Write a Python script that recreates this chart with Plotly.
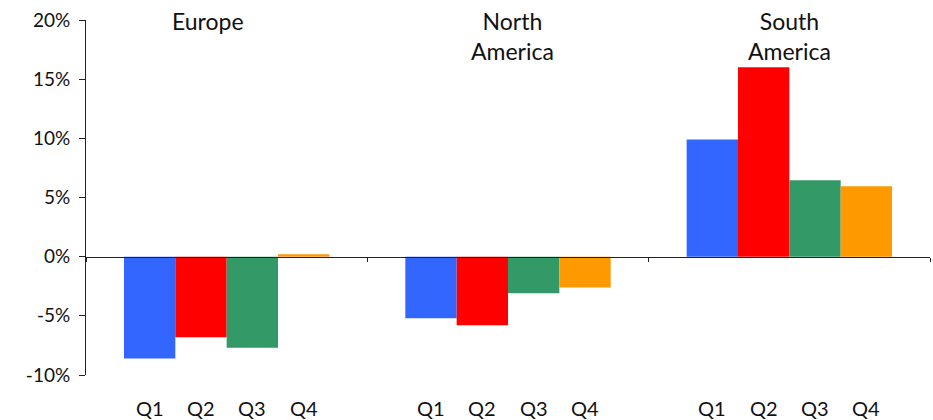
import plotly.graph_objects as go

regions = ["Europe", "North America", "South America"]
region_titles = ["Europe", "North<br>America", "South<br>America"]
quarters = ["Q1", "Q2", "Q3", "Q4"]
q1 = [-8.6, -5.2, 9.9]
q2 = [-6.8, -5.8, 16.0]
q3 = [-7.7, -3.1, 6.45]
q4 = [0.2, -2.6, 5.95]
series = [q1, q2, q3, q4]
colors = ["#3366FF", "#FF0000", "#339966", "#FF9900"]
ytick_vals = [-10, -5, 0, 5, 10, 15, 20]
ytick_text = ["-10%", "-5%", "0%", "5%", "10%", "15%", "20%"]
title_shift = [-19, 4, 0]

FONT = "Lato"
BARGAP = 0.27

fig = go.Figure()
for name, vals, col in zip(quarters, series, colors):
    fig.add_trace(go.Bar(x=regions, y=vals, name=name, marker=dict(color=col, line=dict(width=0)),
                         showlegend=False))

w = (1 - BARGAP) / len(quarters)
annotations = []
for i, t in enumerate(region_titles):
    annotations.append(dict(x=i, y=1, xref="x", yref="paper", text=t, showarrow=False,
                            yanchor="top", yshift=15, xshift=title_shift[i],
                            font=dict(family=FONT, size=23, color="#111")))
    for j, q in enumerate(quarters):
        annotations.append(dict(x=i + (j - 1.5) * w, y=0, xref="x", yref="paper", text=q,
                                showarrow=False, yanchor="middle", yshift=-33,
                                font=dict(family=FONT, size=20, color="#111")))

fig.update_layout(
    width=933, height=420,
    margin=dict(l=86, r=3, t=20, b=45),
    paper_bgcolor="white", plot_bgcolor="white",
    barmode="group", bargap=BARGAP, bargroupgap=0,
    annotations=annotations,
    font=dict(family=FONT, size=19, color="#111"),
)
fig.update_xaxes(type="category", range=[-0.5, 2.5], anchor="free", position=1/3,
                 showline=True, linecolor="#222", linewidth=1, ticks="outside",
                 tickson="boundaries", ticklen=4, tickcolor="#222",
                 showticklabels=False, showgrid=False, zeroline=False)
fig.update_yaxes(range=[-10, 20], tickmode="array", tickvals=ytick_vals, ticktext=ytick_text,
                 showline=True, linecolor="#222", linewidth=1, ticks="outside", ticklen=6,
                 tickcolor="#222", showgrid=False, zeroline=False, ticklabelstandoff=5,
                 tickfont=dict(family=FONT, size=19, color="#111"))

fig.write_html("out.html")
